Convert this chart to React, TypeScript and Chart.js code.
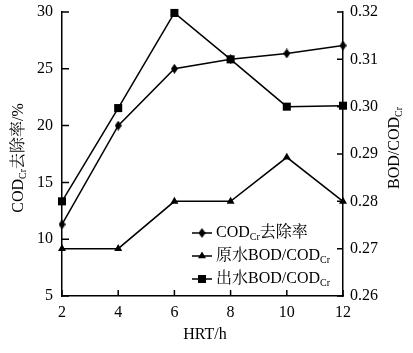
import React, { useEffect, useRef } from 'react';
import { Chart, registerables } from 'chart.js';

Chart.register(...registerables);

// ---- data ----
const hrt = [2, 4, 6, 8, 10, 12];
const codRemoval = [11.3, 20, 25, 25.85, 26.35, 27.05];
const rawBodCod = [0.27, 0.27, 0.28, 0.28, 0.2893, 0.28];
const outBodCod = [0.28, 0.2997, 0.3198, 0.31, 0.3, 0.3002];

const xTickMin = 2, xTickMax = 12, xTickStep = 2;
const leftMin = 5, leftMax = 30, leftStep = 5;
const rightMin = 0.26, rightMax = 0.32, rightStep = 0.01;

type Seg = { t: string; sub?: boolean };
const legendLabels: Seg[][] = [
  [{ t: 'COD' }, { t: 'Cr', sub: true }, { t: '去除率' }],
  [{ t: '原水BOD/COD' }, { t: 'Cr', sub: true }],
  [{ t: '出水BOD/COD' }, { t: 'Cr', sub: true }],
];
const leftTitle: Seg[] = [{ t: 'COD' }, { t: 'Cr', sub: true }, { t: '去除率/%' }];
const rightTitle: Seg[] = [{ t: 'BOD/COD' }, { t: 'Cr', sub: true }];
const xTitle: Seg[] = [{ t: 'HRT/h' }];

// ---- styles ----
const SERIF = '"Liberation Serif", "Noto Serif CJK SC", "Noto Sans CJK SC", serif';
const MAIN_FONT = `16px ${SERIF}`;
const SUB_FONT = `10px ${SERIF}`;

function makeDiamond(w: number, h: number): HTMLCanvasElement {
  const c = document.createElement('canvas');
  c.width = w;
  c.height = h;
  const g = c.getContext('2d')!;
  g.fillStyle = '#000';
  g.beginPath();
  g.moveTo(w / 2, 0);
  g.lineTo(w, h / 2);
  g.lineTo(w / 2, h);
  g.lineTo(0, h / 2);
  g.closePath();
  g.fill();
  return c;
}

function richWidth(ctx: CanvasRenderingContext2D, segs: Seg[]) {
  let w = 0;
  for (const s of segs) {
    ctx.font = s.sub ? SUB_FONT : MAIN_FONT;
    w += ctx.measureText(s.t).width;
  }
  return w;
}

function drawRich(ctx: CanvasRenderingContext2D, segs: Seg[], x: number, y: number, align: 'left' | 'center') {
  let cx = align === 'center' ? x - richWidth(ctx, segs) / 2 : x;
  ctx.textAlign = 'left';
  ctx.textBaseline = 'middle';
  ctx.fillStyle = '#000';
  for (const s of segs) {
    ctx.font = s.sub ? SUB_FONT : MAIN_FONT;
    ctx.fillText(s.t, cx, s.sub ? y + 4 : y);
    cx += ctx.measureText(s.t).width;
  }
}

function drawMarker(ctx: CanvasRenderingContext2D, style: string, x: number, y: number, diamond: HTMLCanvasElement) {
  ctx.fillStyle = '#000';
  if (style === 'diamond') {
    ctx.drawImage(diamond, x - diamond.width / 2, y - diamond.height / 2);
  } else if (style === 'triangle') {
    const r = 4.6;
    ctx.beginPath();
    ctx.moveTo(x, y - r);
    ctx.lineTo(x + r * Math.cos(Math.PI / 6), y + r / 2);
    ctx.lineTo(x - r * Math.cos(Math.PI / 6), y + r / 2);
    ctx.closePath();
    ctx.fill();
  } else {
    ctx.fillRect(x - 4, y - 4, 8, 8);
  }
}

export default function App() {
  const ref = useRef<HTMLCanvasElement | null>(null);

  useEffect(() => {
    document.body.style.margin = '0';
    const canvas = ref.current!;
    const diamond = makeDiamond(7, 10);
    const markerStyles = ['diamond', 'triangle', 'rect'];

    const overlay = {
      id: 'overlay',
      afterDraw(chart: any) {
        const ctx: CanvasRenderingContext2D = chart.ctx;
        const { left, right, bottom } = chart.chartArea;
        const xs = chart.scales.x, yl = chart.scales.y, yr = chart.scales.y1;
        ctx.save();
        ctx.strokeStyle = '#000';
        ctx.lineWidth = 1.5;
        // inward tick marks
        ctx.beginPath();
        for (const t of xs.ticks) {
          const p = xs.getPixelForValue(t.value);
          ctx.moveTo(p, bottom);
          ctx.lineTo(p, bottom - 6);
        }
        for (const t of yl.ticks) {
          const p = yl.getPixelForValue(t.value);
          ctx.moveTo(left, p);
          ctx.lineTo(left + 7, p);
        }
        for (const t of yr.ticks) {
          const p = yr.getPixelForValue(t.value);
          ctx.moveTo(right, p);
          ctx.lineTo(right - 6, p);
        }
        ctx.stroke();

        // axis titles
        ctx.save();
        ctx.translate(19, 158);
        ctx.rotate(-Math.PI / 2);
        drawRich(ctx, leftTitle, 0, 0, 'center');
        ctx.restore();
        ctx.save();
        ctx.translate(395, 148);
        ctx.rotate(-Math.PI / 2);
        drawRich(ctx, rightTitle, 0, 0, 'center');
        ctx.restore();
        drawRich(ctx, xTitle, 205, 335, 'center');

        // legend
        const lx = 192, ly0 = 233, lgap = 23;
        legendLabels.forEach((segs, i) => {
          const y = ly0 + i * lgap;
          ctx.lineWidth = 1.5;
          ctx.strokeStyle = '#000';
          ctx.beginPath();
          ctx.moveTo(lx, y);
          ctx.lineTo(lx + 20, y);
          ctx.stroke();
          drawMarker(ctx, markerStyles[i], lx + 10, y, diamond);
          drawRich(ctx, segs, lx + 24, y, 'left');
        });
        ctx.restore();
      },
    };

    const toPts = (vals: number[]) => vals.map((v, i) => ({ x: hrt[i], y: v }));
    const common = {
      borderColor: '#000',
      backgroundColor: '#000',
      pointBackgroundColor: '#000',
      pointBorderColor: '#000',
      borderWidth: 1.5,
      pointBorderWidth: 0,
      tension: 0,
      clip: false,
    };
    const tickFont = { family: SERIF, size: 16 };
    const noVPad = (s: any) => { s.paddingTop = 0; s.paddingBottom = 0; };

    const chart = new Chart(canvas, {
      type: 'line',
      data: {
        datasets: [
          { ...common, label: 'COD_Cr去除率', data: toPts(codRemoval), yAxisID: 'y', pointStyle: diamond as any, pointRadius: 5 },
          { ...common, label: '原水BOD/COD_Cr', data: toPts(rawBodCod), yAxisID: 'y1', pointStyle: 'triangle', pointRadius: 4.6 },
          { ...common, label: '出水BOD/COD_Cr', data: toPts(outBodCod), yAxisID: 'y1', pointStyle: 'rect', pointRadius: 5.7 },
        ],
      },
      options: {
        animation: false,
        responsive: false,
        layout: { padding: { top: 12, left: 0, right: 0, bottom: 0 } },
        plugins: { legend: { display: false }, tooltip: { enabled: false } },
        scales: {
          x: {
            type: 'linear',
            min: xTickMin,
            max: xTickMax,
            ticks: { stepSize: xTickStep, font: tickFont, color: '#000', padding: 7 },
            grid: { display: true, drawOnChartArea: false, drawTicks: false },
            border: { display: true, color: '#000', width: 1.5 },
            afterFit: (s: any) => { s.height = 57; s.paddingLeft = 0; s.paddingRight = 0; },
          },
          y: {
            type: 'linear',
            position: 'left',
            min: leftMin,
            max: leftMax,
            ticks: { stepSize: leftStep, font: tickFont, color: '#000', padding: 9 },
            grid: { display: true, drawOnChartArea: false, drawTicks: false },
            border: { display: true, color: '#000', width: 1.5 },
            afterFit: (s: any) => { s.width = 62; noVPad(s); },
          },
          y1: {
            type: 'linear',
            position: 'right',
            min: rightMin,
            max: rightMax,
            ticks: {
              stepSize: rightStep,
              font: tickFont,
              color: '#000',
              padding: 7,
              callback: (v: any) => Number(v).toFixed(2),
            },
            grid: { display: true, drawOnChartArea: false, drawTicks: false },
            border: { display: true, color: '#000', width: 1.5 },
            afterFit: (s: any) => { s.width = 70; noVPad(s); },
          },
        },
      },
      plugins: [overlay],
    } as any);

    return () => chart.destroy();
  }, []);

  return (
    <div style={{ position: 'absolute', left: 0, top: 0, width: 413, height: 353, background: '#fff' }}>
      <canvas ref={ref} width={413} height={353} style={{ display: 'block' }} />
    </div>
  );
}
